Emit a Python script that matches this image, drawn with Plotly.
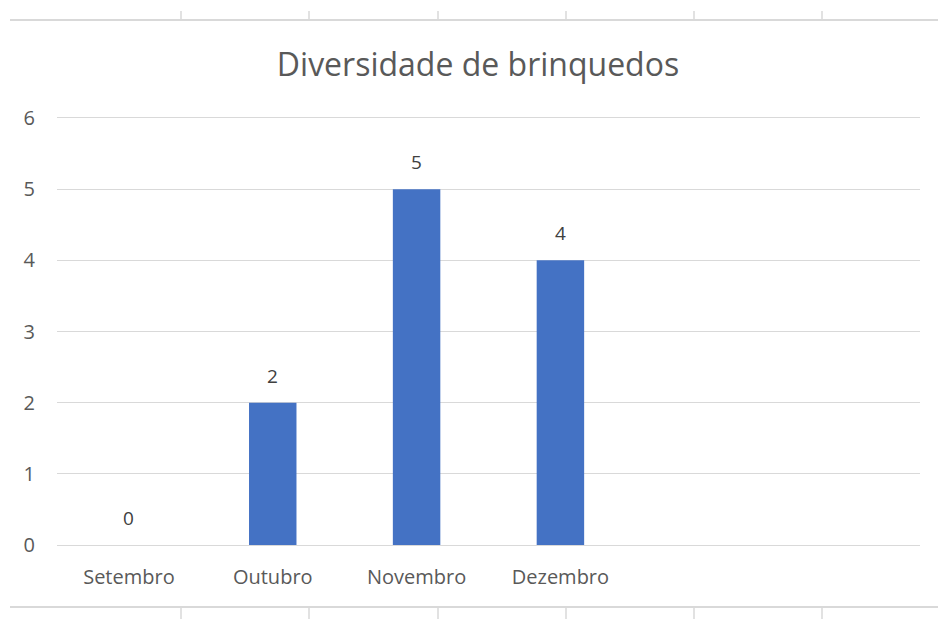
import plotly.graph_objects as go

categories = ["Setembro", "Outubro", "Novembro", "Dezembro"]
values = [0, 2, 5, 4]
y_ticks = [0, 1, 2, 3, 4, 5, 6]
title_text = "Diversidade de brinquedos"

W, H = 946, 619
OFF = 8  # page body margin offset
# target plot area in screen pixels: x 57..920, y 118..545
PX0, PX1, PY0, PY1 = 57, 920, 118, 545
L = PX0 - OFF
T = PY0 - OFF
pw = PX1 - PX0
ph = PY1 - PY0
R = W - L - pw
B = H - T - ph

def px_x(px):
    return (px - PX0) / pw

def px_y(py):
    return (PY1 - py) / ph

FONT = "Open Sans, Noto Sans, sans-serif"
line_col = "#d9d9d9"

fig = go.Figure()
fig.add_trace(go.Bar(
    x=categories, y=values, width=0.33,
    marker=dict(color="#4472C4", line=dict(width=0)),
    hoverinfo="skip",
))

annotations = []
for c, v in zip(categories, values):
    annotations.append(dict(
        x=c, y=v, xref="x", yref="y", text=str(v), showarrow=False,
        yshift=27, yanchor="middle",
        font=dict(family=FONT, size=19, color="#404040"),
    ))

shapes = []
for py in (20, 607):
    shapes.append(dict(type="line", xref="paper", yref="paper",
                       x0=px_x(10), x1=px_x(960), y0=px_y(py), y1=px_y(py),
                       line=dict(color=line_col, width=2)))
for px in (181, 309, 438, 566, 694, 822):
    shapes.append(dict(type="line", xref="paper", yref="paper",
                       x0=px_x(px), x1=px_x(px), y0=px_y(11), y1=px_y(20),
                       line=dict(color=line_col, width=1.5)))
    shapes.append(dict(type="line", xref="paper", yref="paper",
                       x0=px_x(px), x1=px_x(px), y0=px_y(608), y1=px_y(625),
                       line=dict(color=line_col, width=1.5)))

fig.update_layout(
    width=W, height=H,
    margin=dict(l=L, r=R, t=T, b=B),
    paper_bgcolor="white", plot_bgcolor="white",
    showlegend=False,
    title=dict(text=title_text, x=(478 - OFF) / W, xanchor="center",
               y=1 - (65 - OFF) / H, yanchor="middle",
               font=dict(family=FONT, size=32, color="#595959")),
    xaxis=dict(
        type="category", range=[-0.5, 5.5], showgrid=False, zeroline=False,
        showline=True, mirror=True, linecolor=line_col, linewidth=1,
        ticks="", ticklabelstandoff=14,
        tickfont=dict(family=FONT, size=20, color="#595959"),
    ),
    yaxis=dict(
        range=[0, 6], tickvals=y_ticks, showgrid=True, gridcolor=line_col, gridwidth=1,
        zeroline=False, showline=False,
        ticks="", ticklabelstandoff=21,
        tickfont=dict(family=FONT, size=20, color="#595959"),
    ),
    shapes=shapes,
    annotations=annotations,
)

fig.write_html("out.html")
